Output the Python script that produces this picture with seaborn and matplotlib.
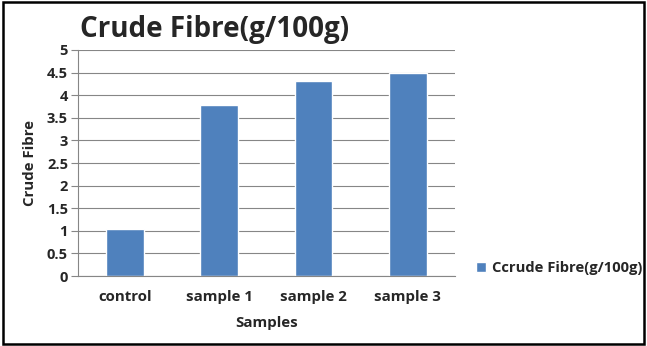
import matplotlib
matplotlib.use("Agg")
import matplotlib.pyplot as plt
import seaborn as sns
from matplotlib.patches import Rectangle

samples = ["control", "sample 1", "sample 2", "sample 3"]
fibre = [1.05, 3.79, 4.32, 4.50]
series_label = "Ccrude Fibre(g/100g)"
title = "Crude Fibre(g/100g)"
y_ticks = [0, 0.5, 1, 1.5, 2, 2.5, 3, 3.5, 4, 4.5, 5]

sns.set_theme(style="white")
plt.rcParams['font.family'] = ['Open Sans', 'DejaVu Sans']

fig = plt.figure(figsize=(6.47, 3.46), dpi=100)
ax = fig.add_axes([0.120, 0.2023, 0.583, 0.6532])

sns.barplot(x=samples, y=fibre, color="#4F81BD", width=0.4, ax=ax,
            label=series_label, saturation=1)

ax.set_ylim(0, 5)
ax.set_xlim(-0.5, 3.5)
ax.set_yticks(y_ticks)
ax.set_yticklabels([f"{t:g}" for t in y_ticks], fontsize=10.5, fontweight="bold")
ax.set_xticks(range(len(samples)))
ax.set_xticklabels(samples, fontsize=10.8, fontweight="bold")
ax.set_xticks([-0.5, 0.5, 1.5, 2.5, 3.5], minor=True)
ax.tick_params(axis="x", which="major", length=0, pad=10)
ax.tick_params(axis="x", which="minor", length=5, color="#868686", width=0.8)
ax.tick_params(axis="y", length=5, color="#868686", width=0.8, pad=2, left=True)
ax.yaxis.grid(True, color="#868686", linewidth=0.8)
ax.set_axisbelow(True)
for s in ["top", "right"]:
    ax.spines[s].set_visible(False)
for s in ["left", "bottom"]:
    ax.spines[s].set_color("#868686")
    ax.spines[s].set_linewidth(0.8)

ax.set_xlabel("Samples", fontsize=10.8, fontweight="bold", labelpad=9)
ax.set_ylabel("Crude Fibre", fontsize=10.8, fontweight="bold", labelpad=7)

fig.text(0.332, 0.916, title, fontsize=20, fontweight="bold", ha="center", va="center")

ax.legend(loc="center left", bbox_to_anchor=(0.715, 0.225), bbox_transform=fig.transFigure,
          frameon=False, prop={"weight": "bold", "size": 10.6}, handlelength=0.7,
          handleheight=0.7, handletextpad=0.4)

fig.patches.append(Rectangle((0.004, 0.006), 0.992, 0.988, transform=fig.transFigure,
                             fill=False, edgecolor="black", linewidth=1.8))

fig.savefig("out.png", dpi=100)
